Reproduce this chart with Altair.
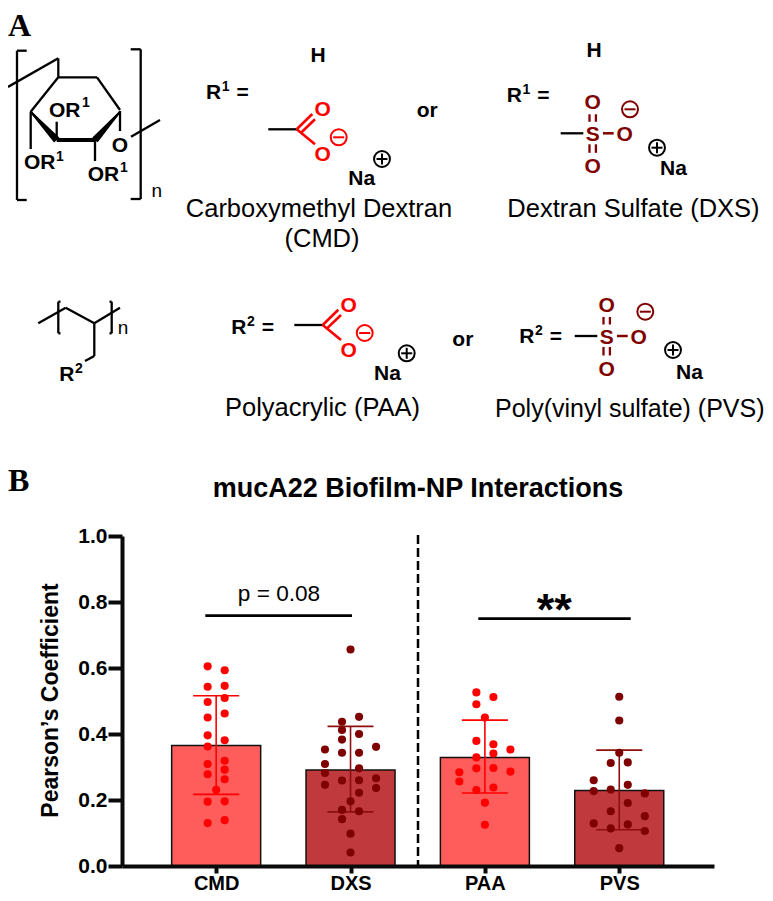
import math
import altair as alt
import pandas as pd

# ---- bar chart data ----
GROUPS = ["CMD", "DXS", "PAA", "PVS"]
MEANS = [0.365, 0.291, 0.329, 0.229]
SD_LOW = [0.217, 0.164, 0.221, 0.110]
SD_HIGH = [0.516, 0.423, 0.442, 0.351]

CMD_VALUES = [0.605, 0.543, 0.497, 0.450, 0.396, 0.362, 0.309, 0.278, 0.195, 0.130,
              0.593, 0.546, 0.509, 0.462, 0.381, 0.319, 0.292, 0.263, 0.196, 0.139, 0.231]
CMD_SLOTS = [-.5] * 10 + [.5] * 10 + [0]

DXS_VALUES = [0.656, 0.196, 0.098, 0.041,
              0.437, 0.412, 0.383, 0.343, 0.259, 0.170, 0.142,
              0.452, 0.400, 0.343, 0.296, 0.260, 0.222, 0.166,
              0.353, 0.309, 0.282, 0.246,
              0.361, 0.266, 0.236]
DXS_SLOTS = [0] * 4 + [-.5] * 7 + [.5] * 7 + [-1.5] * 4 + [1.5] * 3

PAA_VALUES = [0.450, 0.192, 0.125,
              0.526, 0.490, 0.379, 0.329, 0.296, 0.230,
              0.512, 0.369, 0.341, 0.297, 0.238,
              0.284, 0.256,
              0.353, 0.286]
PAA_SLOTS = [0] * 3 + [-.5] * 6 + [.5] * 5 + [-1.5] * 2 + [1.5] * 2

PVS_VALUES = [0.513, 0.441, 0.343, 0.054,
              0.312, 0.232, 0.166, 0.114,
              0.314, 0.246, 0.191, 0.126,
              0.260, 0.227, 0.129,
              0.220, 0.151, 0.106]
PVS_SLOTS = [0] * 4 + [-.5] * 4 + [.5] * 4 + [-1.5] * 3 + [1.5] * 3

BAR_COLORS = ["#FF5C5C", "#C0393C", "#FF5C5C", "#C0393C"]
DOT_COLORS = ["#FF0000", "#7F0000", "#FF0000", "#7F0000"]
ERR_COLORS = ["#FF0000", "#8E0E0E", "#FF0000", "#8E0E0E"]

# ---- layout ----
PLOT_LEFT, PLOT_TOP = 122, 536
PLOT_W, PLOT_H = 592, 330
STEP = 136.67
SLOT = 17.33 / STEP
CAP = 23.4 / STEP
RED = "#FF0000"
DARK = "#800000"
INK = "#000000"
SANS = "Liberation Sans"
SVG_W, SVG_H = 757, 885

summary = pd.DataFrame({"name": GROUPS, "i": range(4), "mean": MEANS, "lo": SD_LOW, "hi": SD_HIGH})
summary["x0"] = summary["i"] - CAP
summary["x1"] = summary["i"] + CAP

rows = []
for i, (name, vals, slots) in enumerate(zip(GROUPS,
                                            [CMD_VALUES, DXS_VALUES, PAA_VALUES, PVS_VALUES],
                                            [CMD_SLOTS, DXS_SLOTS, PAA_SLOTS, PVS_SLOTS])):
    for v, s in zip(vals, slots):
        rows.append({"name": name, "px": i + s * SLOT, "v": v})
points = pd.DataFrame(rows)

x_scale = alt.Scale(domain=[-90.7 / STEP, (PLOT_W - 90.7) / STEP], nice=False, zero=False)
y_scale = alt.Scale(domain=[0, 1], nice=False)

x_axis = alt.Axis(values=[0, 1, 2, 3], labelExpr="['CMD','DXS','PAA','PVS'][datum.value]",
                  title=None, grid=False, domainWidth=4, domainColor="#0a0a0a", tickColor="#0a0a0a",
                  tickWidth=4, tickSize=7, labelFont=SANS, labelFontWeight="bold", labelFontSize=20,
                  labelColor=INK, labelPadding=0, labelFlush=False, labelOverlap=False, zindex=1)
y_axis = alt.Axis(values=[0, .2, .4, .6, .8, 1], format=".1f", title="Pearson\u2019s Coefficient", grid=False,
                  domainWidth=4, domainColor="#0a0a0a", tickColor="#0a0a0a", tickWidth=4, tickSize=14,
                  labelFont=SANS, labelFontWeight="bold", labelFontSize=21, labelColor=INK, labelPadding=1,
                  labelFlush=False, labelOverlap=False,
                  titleFont=SANS, titleFontWeight="bold", titleFontSize=23, titleColor=INK,
                  titleX=57 - PLOT_LEFT, titleY=700 - PLOT_TOP, titleAngle=270, titleBaseline="alphabetic",
                  titleAlign="center", zindex=1)

bars = alt.Chart(summary).mark_bar(size=89, stroke="#111111", strokeWidth=1.5, clip=False).encode(
    x=alt.X("i:Q", scale=x_scale, axis=x_axis),
    y=alt.Y("mean:Q", scale=y_scale, axis=y_axis),
    fill=alt.Fill("name:N", scale=alt.Scale(domain=GROUPS, range=BAR_COLORS), legend=None),
)
err_v = alt.Chart(summary).mark_rule(strokeWidth=1.6).encode(
    x=alt.X("i:Q", scale=x_scale), y=alt.Y("lo:Q", scale=y_scale), y2="hi:Q",
    stroke=alt.Stroke("name:N", scale=alt.Scale(domain=GROUPS, range=ERR_COLORS), legend=None),
)
cap_lo = alt.Chart(summary).mark_rule(strokeWidth=1.6).encode(
    x=alt.X("x0:Q", scale=x_scale), x2="x1:Q", y=alt.Y("lo:Q", scale=y_scale),
    stroke=alt.Stroke("name:N", scale=alt.Scale(domain=GROUPS, range=ERR_COLORS), legend=None),
)
cap_hi = alt.Chart(summary).mark_rule(strokeWidth=1.6).encode(
    x=alt.X("x0:Q", scale=x_scale), x2="x1:Q", y=alt.Y("hi:Q", scale=y_scale),
    stroke=alt.Stroke("name:N", scale=alt.Scale(domain=GROUPS, range=ERR_COLORS), legend=None),
)
dots = alt.Chart(points).mark_circle(size=66, opacity=1).encode(
    x=alt.X("px:Q", scale=x_scale), y=alt.Y("v:Q", scale=y_scale),
    color=alt.Color("name:N", scale=alt.Scale(domain=GROUPS, range=DOT_COLORS), legend=None),
)


# ---- annotation helpers (page pixels -> plot pixels) ----
def X(x):
    return alt.value(x - PLOT_LEFT)


def Y(y):
    return alt.value(y - PLOT_TOP)


def bond(x1, y1, x2, y2, color=INK, w=2.3, dash=None):
    kw = {"strokeDash": dash} if dash else {}
    return alt.Chart().mark_rule(color=color, strokeWidth=w, clip=False, **kw).encode(
        x=X(x1), y=Y(y1), x2=alt.value(x2 - PLOT_LEFT), y2=alt.value(y2 - PLOT_TOP))


def wedge(tx, ty, bx, by, half=2.8):
    dx, dy = bx - tx, by - ty
    n = math.hypot(dx, dy)
    ox, oy = -dy / n, dx / n
    return [bond(tx, ty, bx + ox * half * k / 3, by + oy * half * k / 3, w=1.6) for k in range(-3, 4)]


def text(s, x, y, size=21, weight="bold", color=INK, align="left", font=SANS):
    return alt.Chart().mark_text(text=s, font=font, fontSize=size, fontWeight=weight, color=color,
                                 align=align, baseline="alphabetic", clip=False).encode(x=X(x), y=Y(y))


def atom(s, cx, cy, color):
    return text(s, cx, cy + 7.5, color=color, align="center")


def ring(cx, cy, color, sign):
    out = [alt.Chart().mark_point(shape="circle", size=254, filled=False, stroke=color, strokeWidth=2,
                                  opacity=1, clip=False).encode(x=X(cx), y=Y(cy)),
           bond(cx - 5.5, cy, cx + 5.5, cy, color=color, w=2)]
    if sign == "+":
        out.append(bond(cx, cy - 5.5, cx, cy + 5.5, color=color, w=2))
    return out


def r_label(s, digit, x, y, eq=True):
    out = [text(s, x, y), text(digit, x + 15.8, y - 8, size=14)]
    if eq:
        out.append(text("=", x + 30.5, y))
    return out


def carboxyl(ox):
    """ox, oy: the carbon of the acetate drawing"""
    cx, cy = ox
    return [
        bond(cx - 28.4, cy, cx, cy),
        bond(cx, cy, cx + 15.6, cy - 15.3, RED, 2.6),
        bond(cx + 4.3, cy + 3.4, cx + 18.3, cy - 10, RED, 2.6),
        bond(cx, cy, cx + 18.3, cy + 15, RED, 2.6),
        atom("O", cx + 26, cy - 21, RED),
        atom("O", cx + 26, cy + 24, RED),
    ] + ring(cx + 42, cy + 8, RED, "-")


def sulfonate(sx, sy):
    return [
        bond(sx - 32, sy, sx - 9.4, sy),
        atom("S", sx, sy, DARK),
        atom("O", sx, sy - 32, DARK),
        atom("O", sx, sy + 32.5, DARK),
        atom("O", sx + 32, sy, DARK),
        bond(sx - 3.2, sy - 19, sx - 3.2, sy - 11.5, DARK, 2.3),
        bond(sx + 3.2, sy - 19, sx + 3.2, sy - 11.5, DARK, 2.3),
        bond(sx - 3.2, sy + 11, sx - 3.2, sy + 19.5, DARK, 2.3),
        bond(sx + 3.2, sy + 11, sx + 3.2, sy + 19.5, DARK, 2.3),
        bond(sx + 10.3, sy, sx + 21, sy, DARK, 2.5),
    ]


layers = [bars, err_v, cap_lo, cap_hi, dots]

# panel letters and chart title
layers += [
    text("A", 8, 36, size=32, font="Liberation Serif"),
    text("B", 8, 491, size=32, font="Liberation Serif"),
    text("mucA22 Biofilm-NP Interactions", 418, 496.7, size=27, align="center"),
]

# sugar ring
layers += [
    bond(17, 50.7, 17, 200), bond(17, 50.7, 26.7, 50.7), bond(17, 200, 26.7, 200),
    bond(140.7, 49.3, 140.7, 199), bond(130.7, 49.3, 140.7, 49.3), bond(130.7, 199, 140.7, 199),
    bond(8, 86.9, 58.3, 58.3), bond(58.3, 58.3, 58.3, 77.3), bond(58.3, 77.3, 97, 77.3),
    bond(97, 77.3, 120, 110), bond(58.3, 77.3, 30.7, 111.7), bond(30.7, 111.7, 30.7, 149),
    bond(56.7, 140, 95, 140, w=3.8), bond(56.7, 140, 56.7, 121.7), bond(95, 140, 95, 161),
    bond(120, 111, 120, 131), bond(131, 136.7, 160, 120),
    atom("O", 120, 144, INK),
    text("n", 151.5, 197, size=19, weight="normal"),
    text("OR", 49, 117.3), text("1", 82, 107, size=14),
    text("OR", 24, 169), text("1", 56, 160.7, size=14),
    text("OR", 87.7, 181), text("1", 120, 171.7, size=14),
]
layers += wedge(30.7, 111.7, 56.7, 140)
layers += wedge(120, 111.7, 95, 140)

# R1 carboxymethyl
layers += r_label("R", "1", 206, 99.3)
layers += [text("H", 318, 61.7, align="center"), text("Na", 348.3, 185),
           text("Carboxymethyl Dextran", 319, 216.7, size=25.5, weight="normal", align="center"),
           text("(CMD)", 322, 247, size=25.5, weight="normal", align="center")]
layers += carboxyl((296.7, 129.3))
layers += ring(382, 159, INK, "+")
layers += [text("or", 416.7, 116.7)]

# R1 sulfate
layers += r_label("R", "1", 506.7, 102.3)
layers += [text("H", 594, 57.3, align="center"), text("Na", 660, 175),
           text("Dextran Sulfate (DXS)", 507.3, 216.7, size=25.5, weight="normal")]
layers += sulfonate(592.7, 133.3)
layers += ring(630, 109.3, DARK, "-")
layers += ring(657, 147.7, INK, "+")

# vinyl backbone
layers += [
    bond(38.3, 323.3, 65.7, 307.7), bond(65.7, 307.7, 94.3, 323.3), bond(94.3, 323.3, 120, 307.7),
    bond(94.3, 323.3, 94.3, 356), bond(94.3, 356, 85, 361),
    bond(58.3, 301.7, 58.3, 333.3), bond(58.3, 301.7, 60.5, 301.7), bond(58.3, 333.3, 60.5, 333.3),
    bond(111.7, 301.7, 111.7, 333.3), bond(109.5, 301.7, 111.7, 301.7), bond(109.5, 333.3, 111.7, 333.3),
    text("n", 117.7, 334, size=19, weight="normal"),
]
layers += r_label("R", "2", 59.3, 380.7, eq=False)

# R2 carboxylate
layers += r_label("R", "2", 231.3, 334)
layers += carboxyl((322.7, 325))
layers += ring(406.7, 353.3, INK, "+")
layers += [text("Na", 374, 380),
           text("Polyacrylic  (PAA)", 225, 416, size=25.5, weight="normal"),
           text("or", 452.3, 346)]

# R2 sulfate
layers += r_label("R", "2", 519.3, 342.7)
layers += sulfonate(606.7, 336)
layers += ring(645.3, 311.7, DARK, "-")
layers += ring(673, 350, INK, "+")
layers += [text("Na", 676, 379.3),
           text("Poly(vinyl sulfate) (PVS)", 495, 416.7, size=25, weight="normal")]

# significance annotations and divider
layers += [
    bond(418, 535, 418, 866, w=2.5, dash=[9, 4]),
    bond(205.3, 615.7, 352, 615.7, w=2.8),
    bond(478.3, 618.7, 630.7, 618.7, w=2.8),
    text("p = 0.08", 279, 601, size=22.6, weight="normal", align="center"),
    text("**", 554.3, 625, size=45, align="center"),
]

chart = alt.layer(*layers).properties(
    width=PLOT_W, height=PLOT_H,
    autosize=alt.AutoSizeParams(type="none"),
    padding={"left": PLOT_LEFT - 8, "top": PLOT_TOP - 8, "right": SVG_W - (PLOT_LEFT - 8) - PLOT_W,
             "bottom": SVG_H - (PLOT_TOP - 8) - PLOT_H},
    background="white",
).resolve_scale(x="shared", y="shared").configure_view(stroke=None)

chart.save("out.html", embed_options={"renderer": "svg", "actions": False})
